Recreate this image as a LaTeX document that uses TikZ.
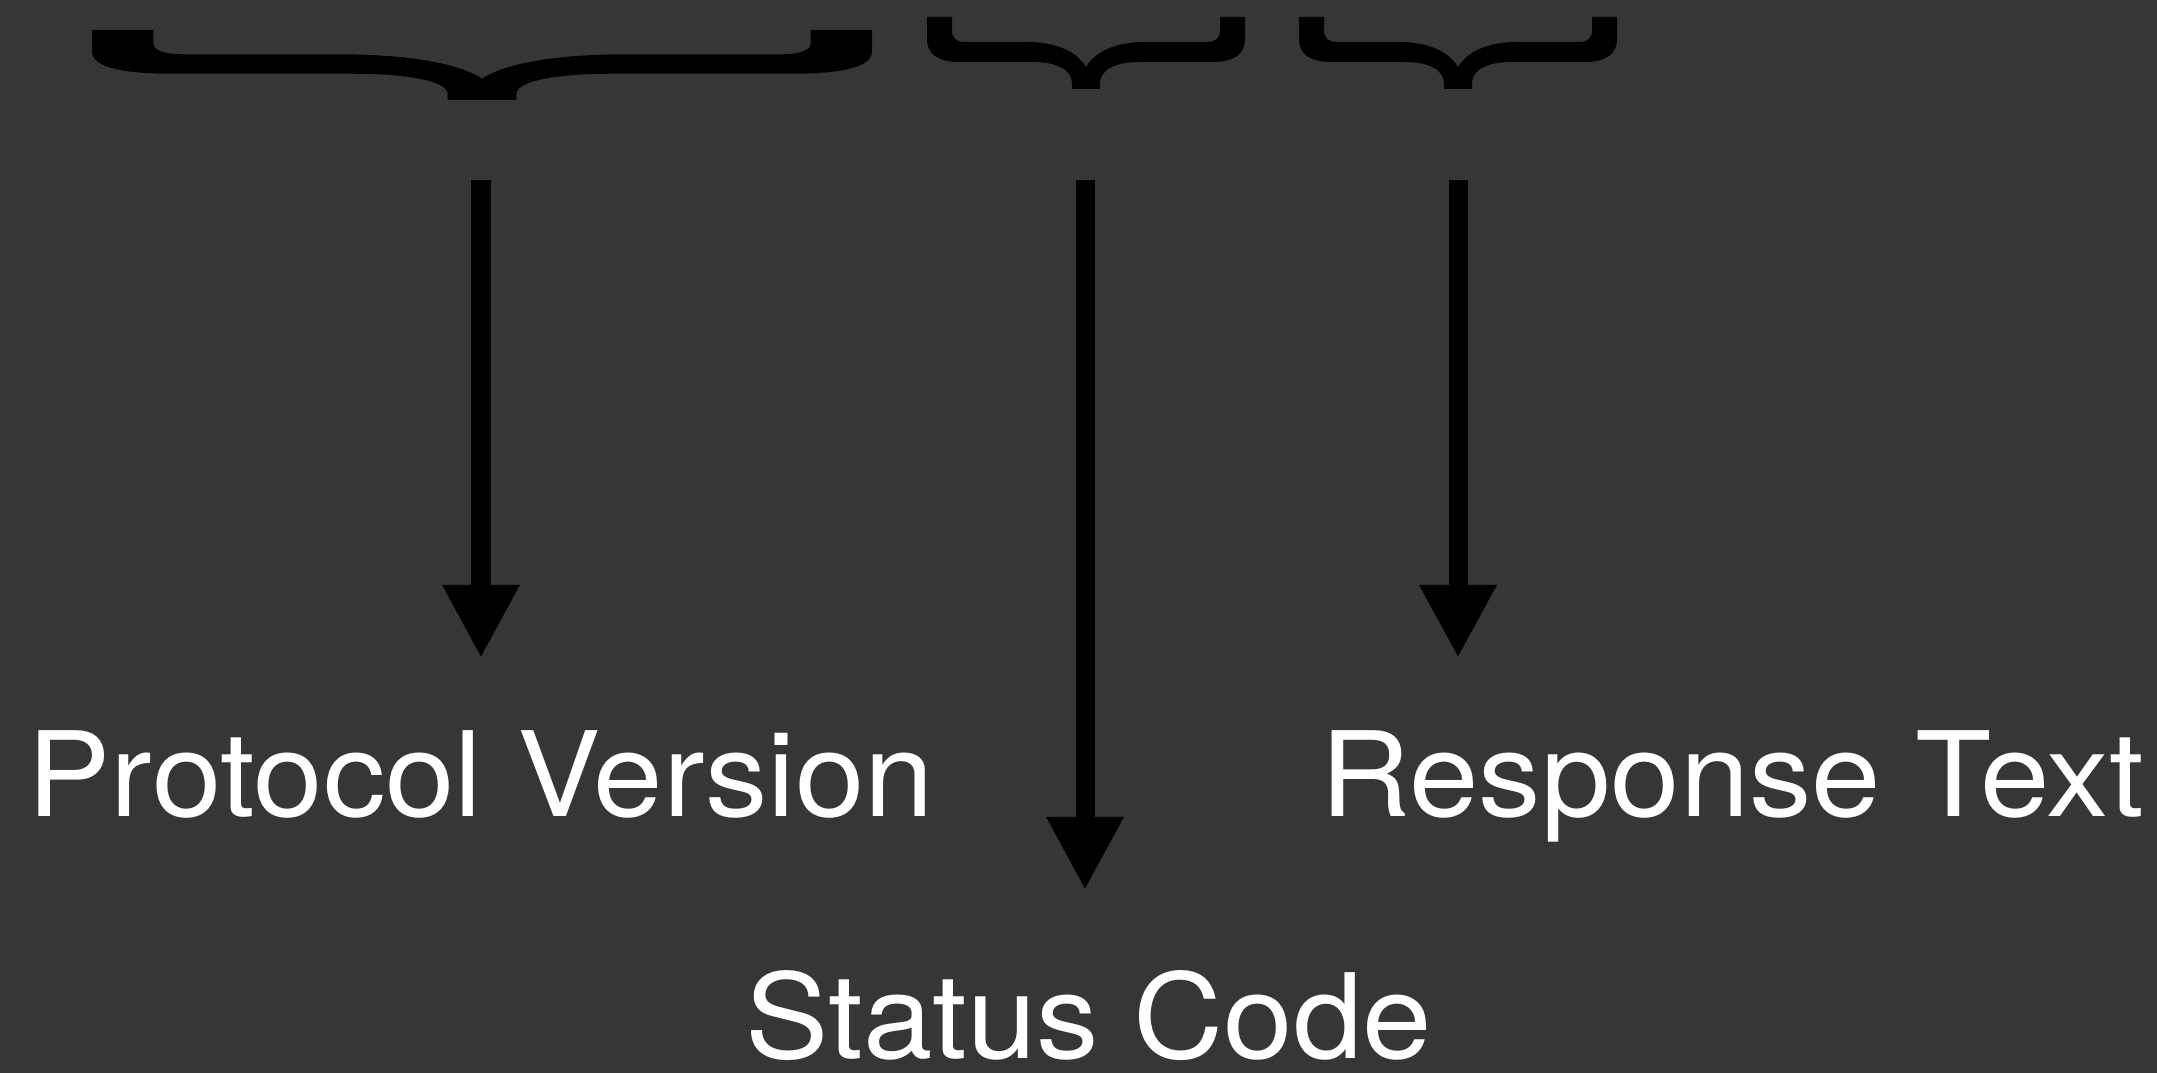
\documentclass[tikz,border=0pt]{standalone}
\usepackage{fontspec}
\setmainfont{TeX Gyre Heros}[FakeStretch=1.06]
\usetikzlibrary{arrows.meta}
\definecolor{bgdark}{RGB}{54,54,54}
\tikzset{
  curly/.pic={
    \fill[black]
      (0,0) -- (25,0) -- (25,13)
      .. controls (25,21) and (29,25) .. (38,25) -- (100,25)
      .. controls (130,25) and (150,35) .. (159,50)
      .. controls (168,35) and (188,25) .. (218,25) -- (280,25)
      .. controls (289,25) and (293,21) .. (293,13) -- (293,0) -- (318,0) -- (318,22)
      .. controls (318,38) and (306,45) .. (285,45) -- (212,45)
      .. controls (190,45) and (173,52) .. (173,66) -- (173,72) -- (145,72) -- (145,66)
      .. controls (145,52) and (128,45) .. (106,45) -- (33,45)
      .. controls (12,45) and (0,38) .. (0,22) -- cycle;
  },
  label/.style={text=white, font=\fontsize{33.5}{40}\selectfont, anchor=base, inner sep=0pt},
  pointer/.style={draw=black, line width=0.19cm,
    -{Triangle[length=0.73cm, width=0.72cm]}}
}
\begin{document}
\begin{tikzpicture}[x=0.01cm, y=-0.01cm]
  \fill[bgdark] (0,0) rectangle (2157,1073);
  \useasboundingbox (0,0) rectangle (2157,1073);

  % braces over the three parts of the status line
  \pic[xscale=2.453, yscale=0.972] at (92,30) {curly};
  \pic at (927,17) {curly};
  \pic at (1299,17) {curly};

  % labels
  \node[label] (pv) at (481,816) {Protocol Version};
  \node[label] (sc) at (1089,1058) {Status Code};
  \node[label] (rt) at (1732,816) {Response Text};

  % arrow ends
  \coordinate (s1) at (481,180);
  \coordinate (e1) at (481,658);
  \coordinate (s2) at (1085,180);
  \coordinate (e2) at (1085,890);
  \coordinate (s3) at (1458,180);
  \coordinate (e3) at (1458,658);

  \draw[pointer] (s1) -- (e1);
  \draw[pointer] (s2) -- (e2);
  \draw[pointer] (s3) -- (e3);
\end{tikzpicture}
\end{document}
